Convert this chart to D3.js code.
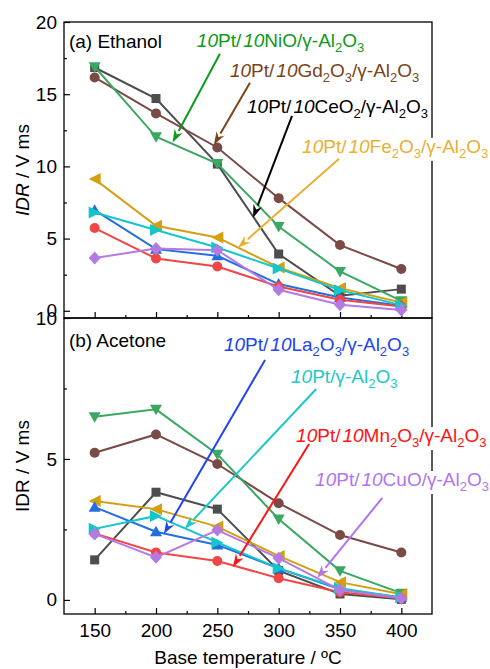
<!DOCTYPE html>
<html>
<head>
<meta charset="utf-8">
<script src="https://cdn.jsdelivr.net/npm/d3@7"></script>
<style>
  body { margin: 0; background: #fff; }
  text { font-family: "Liberation Sans", Arial, sans-serif; }
</style>
</head>
<body>
<svg id="chart" width="490" height="669"></svg>
<script>
// base temperatures (ºC)
var temps = [150, 200, 250, 300, 350, 400];

// (a) ethanol, IDR / V ms
var ethCeO2 = [16.85, 14.7, 10.16, 3.93, 1.04, 1.5],
    ethGd2O3 = [16.16, 13.67, 11.31, 7.8, 4.55, 2.89],
    ethNiO = [16.9, 12.05, 10.2, 5.84, 2.72, 0.69],
    ethFe2O3 = [9.12, 5.89, 5.08, 3.0, 1.57, 0.57],
    ethLa2O3 = [6.97, 4.27, 3.81, 1.85, 0.92, 0.35],
    ethMn2O3 = [5.73, 3.62, 3.07, 1.68, 0.76, 0.3],
    ethPt = [6.81, 5.59, 4.38, 2.93, 1.43, 0.39],
    ethCuO = [3.65, 4.31, 4.2, 1.45, 0.42, 0.05];

// (b) acetone, IDR / V ms
var aceCeO2 = [1.42, 3.82, 3.22, 1.04, 0.21, 0.02],
    aceGd2O3 = [5.22, 5.87, 4.82, 3.43, 2.3, 1.68],
    aceNiO = [6.5, 6.76, 5.17, 2.87, 1.03, 0.24],
    aceFe2O3 = [3.51, 3.22, 2.6, 1.56, 0.63, 0.2],
    aceLa2O3 = [3.29, 2.42, 1.95, 1.12, 0.38, 0.09],
    aceMn2O3 = [2.36, 1.68, 1.38, 0.77, 0.27, 0.06],
    acePt = [2.52, 2.98, 2.04, 1.12, 0.41, 0.09],
    aceCuO = [2.34, 1.51, 2.48, 1.48, 0.35, 0.06];

var xTicks = [150, 200, 250, 300, 350, 400],
    xMinor = [175, 225, 275, 325, 375],
    topTicks = [0, 5, 10, 15, 20],
    topMinor = [2.5, 7.5, 12.5, 17.5],
    botTicks = [0, 5, 10],
    botMinor = [2.5, 7.5];

var series = [
  {key: "CeO2", sym: "square", color: "#4d4d4d", eth: ethCeO2, ace: aceCeO2},
  {key: "Gd2O3", sym: "circle", color: "#7a4a47", eth: ethGd2O3, ace: aceGd2O3},
  {key: "NiO", sym: "down", color: "#3aa862", eth: ethNiO, ace: aceNiO},
  {key: "Fe2O3", sym: "left", color: "#d4a012", eth: ethFe2O3, ace: aceFe2O3},
  {key: "La2O3", sym: "up", color: "#2270e0", eth: ethLa2O3, ace: aceLa2O3},
  {key: "Mn2O3", sym: "circle", color: "#f24545", eth: ethMn2O3, ace: aceMn2O3},
  {key: "Pt", sym: "right", color: "#14c6cc", eth: ethPt, ace: acePt},
  {key: "CuO", sym: "diamond", color: "#b27ae2", eth: ethCuO, ace: aceCuO}
];

// annotations: label text parts, label anchor and arrow (data units)
// part kinds: i = italic, s = subscript, n = normal
var notes = [
  {panel: 0, color: "#0e9a1c", parts: [["10","i"],["Pt/","n"],["10","i"],["NiO/γ-Al","n"],["2","s"],["O","n"],["3","s"]],
   at: [233.3, 18.28], from: [252.1, 17.8], to: [213.5, 11.66]},
  {panel: 0, color: "#7b4519", parts: [["10","i"],["Pt/","n"],["10","i"],["Gd","n"],["2","s"],["O","n"],["3","s"],["/γ-Al","n"],["2","s"],["O","n"],["3","s"]],
   at: [260.3, 16.2], from: [276.6, 15.79], to: [247.2, 11.5]},
  {panel: 0, color: "#000000", parts: [["10","i"],["Pt/","n"],["10","i"],["CeO","n"],["2","s"],["/γ-Al","n"],["2","s"],["O","n"],["3","s"]],
   at: [274.2, 13.71], from: [310.9, 13.5], to: [279.1, 6.44]},
  {panel: 0, color: "#e8b035", parts: [["10","i"],["Pt/","n"],["10","i"],["Fe","n"],["2","s"],["O","n"],["3","s"],["/γ-Al","n"],["2","s"],["O","n"],["3","s"]],
   at: [319.1, 10.94], from: [349.3, 10.53], to: [266.8, 4.36]},
  {panel: 1, color: "#2244f2", parts: [["10","i"],["Pt/","n"],["10","i"],["La","n"],["2","s"],["O","n"],["3","s"],["/γ-Al","n"],["2","s"],["O","n"],["3","s"]],
   at: [255.4, 8.83], from: [288.9, 8.51], to: [206.4, 2.34]},
  {panel: 1, color: "#1ec8c8", parts: [["10","i"],["Pt/γ-Al","n"],["2","s"],["O","n"],["3","s"]],
   at: [310.1, 7.7], from: [330.6, 7.48], to: [223.5, 2.52]},
  {panel: 1, color: "#ff1414", parts: [["10","i"],["Pt/","n"],["10","i"],["Mn","n"],["2","s"],["O","n"],["3","s"],["/γ-Al","n"],["2","s"],["O","n"],["3","s"]],
   at: [314.2, 5.6], from: [324.8, 5.53], to: [262.7, 1.17]},
  {panel: 1, color: "#b274f2", parts: [["10","i"],["Pt/","n"],["10","i"],["CuO/γ-Al","n"],["2","s"],["O","n"],["3","s"]],
   at: [329.7, 4.04], from: [384.5, 3.62], to: [331.4, 0.78]}
];

var svg = d3.select("#chart"),
    left = 64, right = 432;

var x = d3.scaleLinear().domain([125, 425]).range([left, right]);
var panels = [
  {y: d3.scaleLinear().domain([-0.5, 20]).range([318, 22]), key: "eth",
   ticks: topTicks, minor: topMinor, label: "(a) Ethanol", italic: true},
  {y: d3.scaleLinear().domain([-0.5, 10]).range([614, 318]), key: "ace",
   ticks: botTicks, minor: botMinor, label: "(b) Acetone", italic: false}
];

var symbols = {
  square: function(g) { g.append("rect").attr("x", -4.5).attr("y", -4.5).attr("width", 9).attr("height", 9); },
  circle: function(g) { g.append("circle").attr("r", 5); },
  down: function(g) { g.append("path").attr("d", "M-6,-4.5L6,-4.5L0,6Z"); },
  up: function(g) { g.append("path").attr("d", "M-6,4.5L6,4.5L0,-6Z"); },
  left: function(g) { g.append("path").attr("d", "M6,-6L6,6L-6,0Z"); },
  right: function(g) { g.append("path").attr("d", "M-6,-6L-6,6L6,0Z"); },
  diamond: function(g) { g.append("path").attr("d", "M0,-6.5L6,0L0,6.5L-6,0Z"); }
};

panels.forEach(function(p, pi) {
  var y = p.y, yTop = y.range()[1], yBot = y.range()[0];
  var g = svg.append("g");

  // left axis, ticks pointing inward
  g.append("g").attr("transform", "translate(" + left + ",0)")
    .call(d3.axisLeft(y).tickValues(p.ticks).tickSize(-6).tickPadding(7))
    .call(function(a) {
      a.select(".domain").remove();
      a.selectAll("line").attr("stroke", "#000").attr("stroke-width", 1.2);
      a.selectAll("text").attr("font-size", 19).attr("fill", "#000").attr("font-family", null);
    });
  g.append("g").attr("transform", "translate(" + left + ",0)")
    .call(d3.axisLeft(y).tickValues(p.minor).tickSize(-3).tickFormat(""))
    .call(function(a) { a.select(".domain").remove(); a.selectAll("line").attr("stroke", "#000").attr("stroke-width", 1.2); });

  // bottom ticks
  var xa = g.append("g").attr("transform", "translate(0," + yBot + ")")
    .call(d3.axisBottom(x).tickValues(xTicks).tickSize(-6).tickPadding(10)
      .tickFormat(pi === 1 ? d3.format("d") : ""));
  xa.select(".domain").remove();
  xa.selectAll("line").attr("stroke", "#000").attr("stroke-width", 1.2);
  xa.selectAll("text").attr("font-size", 19).attr("fill", "#000").attr("font-family", null);
  var xm = g.append("g").attr("transform", "translate(0," + yBot + ")")
    .call(d3.axisBottom(x).tickValues(xMinor).tickSize(-3).tickFormat(""));
  xm.select(".domain").remove();
  xm.selectAll("line").attr("stroke", "#000").attr("stroke-width", 1.2);

  // frame
  g.append("rect").attr("x", left).attr("y", yTop)
    .attr("width", right - left).attr("height", yBot - yTop)
    .attr("fill", "none").attr("stroke", "#000").attr("stroke-width", 1.3);

  // panel label
  g.append("text").attr("x", x(129)).attr("y", pi === 0 ? y(18.22) : y(8.97))
    .attr("font-size", 19).text(p.label);

  // y title
  var t = g.append("text")
    .attr("transform", "translate(29," + (yTop + yBot) / 2 + ") rotate(-90)")
    .attr("text-anchor", "middle").attr("font-size", 19);
  t.append("tspan").attr("font-style", p.italic ? "italic" : null).text("IDR");
  t.append("tspan").text(" / V ms");

  // lines and markers
  var line = d3.line().x(function(d) { return x(d[0]); }).y(function(d) { return y(d[1]); });
  series.forEach(function(s) {
    var pts = temps.map(function(t, i) { return [t, s[p.key][i]]; });
    g.append("path").datum(pts).attr("d", line)
      .attr("fill", "none").attr("stroke", s.color).attr("stroke-width", 2);
    g.selectAll(null).data(pts).enter().append("g")
      .attr("transform", function(d) { return "translate(" + x(d[0]) + "," + y(d[1]) + ")"; })
      .attr("fill", s.color)
      .each(function() { symbols[s.sym](d3.select(this)); });
  });

  // annotations
  notes.filter(function(n) { return n.panel === pi; }).forEach(function(n) {
    var lbl = g.append("text").attr("x", x(n.at[0])).attr("y", y(n.at[1]))
      .attr("font-size", 19).attr("fill", n.color);
    n.parts.forEach(function(pt, k) {
      var ts = lbl.append("tspan").text(pt[0]);
      if (pt[1] === "i") ts.attr("font-style", "italic");
      if (pt[1] === "s") ts.attr("font-size", 13).attr("dy", 5);
      var prev = n.parts[k - 1];
      if (prev && prev[1] === "s" && pt[1] !== "s") ts.attr("dy", -5);
      if (pt[1] === "i" && k > 0) ts.attr("dx", 2);
    });
    var bb = lbl.node().getBBox();
    g.insert("rect", function() { return lbl.node(); })
      .attr("x", bb.x - 1).attr("y", bb.y + 2).attr("width", bb.width + 2).attr("height", bb.height - 2)
      .attr("fill", "#fff");

    var x0 = x(n.from[0]), y0 = y(n.from[1]), x1 = x(n.to[0]), y1 = y(n.to[1]);
    var ang = Math.atan2(y1 - y0, x1 - x0), hl = 13, hw = 4.5;
    var bx = x1 - hl * Math.cos(ang), by = y1 - hl * Math.sin(ang);
    g.append("line").attr("x1", x0).attr("y1", y0).attr("x2", bx).attr("y2", by)
      .attr("stroke", n.color).attr("stroke-width", 2);
    g.append("path")
      .attr("d", "M" + x1 + "," + y1 +
        "L" + (bx + hw * Math.sin(ang)) + "," + (by - hw * Math.cos(ang)) +
        "L" + (x1 - (hl - 4) * Math.cos(ang)) + "," + (y1 - (hl - 4) * Math.sin(ang)) +
        "L" + (bx - hw * Math.sin(ang)) + "," + (by + hw * Math.cos(ang)) + "Z")
      .attr("fill", n.color);
  });
});

// x title
svg.append("text").attr("x", (left + right) / 2).attr("y", 664)
  .attr("text-anchor", "middle").attr("font-size", 19).text("Base temperature / ºC");
</script>
</body>
</html>
